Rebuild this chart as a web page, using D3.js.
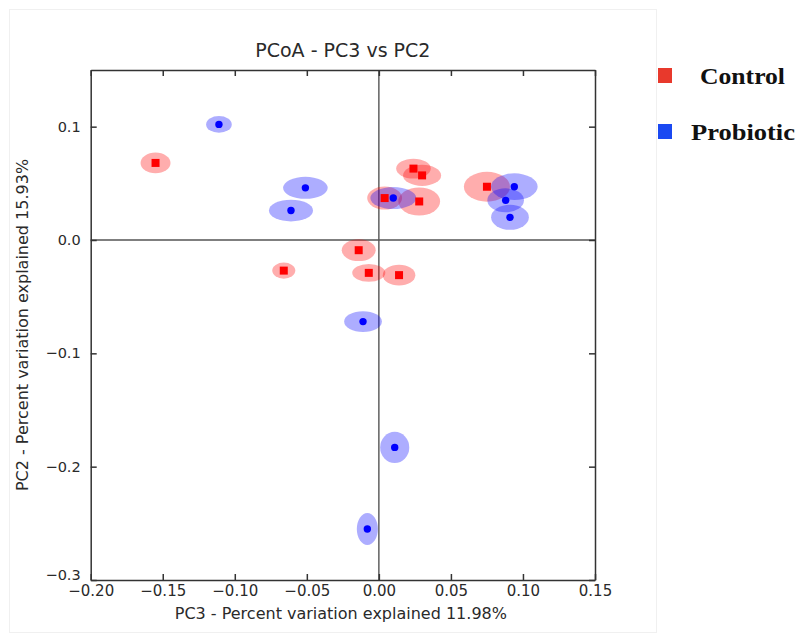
<!DOCTYPE html>
<html>
<head>
<meta charset="utf-8">
<script src="https://cdn.jsdelivr.net/npm/d3@7"></script>
<style>
  html, body { margin: 0; padding: 0; background: #fff; }
  svg { display: block; }
</style>
</head>
<body>
<svg id="chart" width="798" height="639"></svg>
<script>
// ---- data ----
const groups = ["Control", "Probiotic"];
const controlPC3 = [-0.155, -0.014, -0.066, -0.007, 0.024, 0.030, 0.004, 0.028, 0.075, 0.014];
const controlPC2 = [0.068, -0.009, -0.027, -0.029, 0.063, 0.057, 0.037, 0.034, 0.047, -0.031];
const controlRx  = [0.0104, 0.0118, 0.0080, 0.0115, 0.0120, 0.0132, 0.0121, 0.0145, 0.0160, 0.0113];
const controlRy  = [0.0091, 0.0096, 0.0071, 0.0079, 0.0088, 0.0093, 0.0101, 0.0124, 0.0132, 0.0091];
const probioticPC3 = [-0.111, -0.051, -0.061, 0.010, 0.094, 0.088, 0.091, -0.011, 0.011, -0.008];
const probioticPC2 = [0.102, 0.046, 0.026, 0.037, 0.047, 0.035, 0.020, -0.072, -0.183, -0.255];
const probioticRx  = [0.0089, 0.0155, 0.0153, 0.0159, 0.0162, 0.0127, 0.0131, 0.0131, 0.0101, 0.0073];
const probioticRy  = [0.0074, 0.0097, 0.0096, 0.0097, 0.0118, 0.0106, 0.0110, 0.0091, 0.0137, 0.0141];
const xTicks = [-0.20, -0.15, -0.10, -0.05, 0.00, 0.05, 0.10, 0.15];
const yTicks = [0.1, 0.0, -0.1, -0.2, -0.3];
const xDomain = [-0.20, 0.15];
const yDomain = [-0.30, 0.15];
const titleText = "PCoA - PC3 vs PC2";
const xLabel = "PC3 - Percent variation explained 11.98%";
const yLabel = "PC2 - Percent variation explained 15.93%";

// ---- layout ----
const svg = d3.select("#chart");
const L = 90.7, R = 595, T = 70, B = 580;
const x = d3.scaleLinear().domain(xDomain).range([L, R]);
const y = d3.scaleLinear().domain(yDomain).range([B, T]);

// faint outer frame of the original figure
svg.append("rect").attr("x", 9.5).attr("y", 9.5).attr("width", 647).attr("height", 623)
  .attr("fill", "none").attr("stroke", "#f0f0f0").attr("stroke-width", 1);

const font = "'DejaVu Sans', sans-serif";
const textCol = "#2a2a2a";

// zero lines
svg.append("line").attr("x1", L).attr("x2", R).attr("y1", y(0)).attr("y2", y(0))
  .attr("stroke", "#555").attr("stroke-width", 1.4);
svg.append("line").attr("x1", x(0)).attr("x2", x(0)).attr("y1", T).attr("y2", B)
  .attr("stroke", "#555").attr("stroke-width", 1.4);

// data records
const ctrl = controlPC3.map((v, i) => ({x: v, y: controlPC2[i], rx: controlRx[i], ry: controlRy[i]}));
const prob = probioticPC3.map((v, i) => ({x: v, y: probioticPC2[i], rx: probioticRx[i], ry: probioticRy[i]}));
const kx = Math.abs(x(1) - x(0)), ky = Math.abs(y(1) - y(0));

const gE = svg.append("g");
gE.selectAll("ellipse.c").data(ctrl).join("ellipse").attr("class", "c")
  .attr("cx", d => x(d.x)).attr("cy", d => y(d.y))
  .attr("rx", d => d.rx * kx).attr("ry", d => d.ry * ky)
  .attr("fill", "rgba(255,0,0,0.32)");
gE.selectAll("ellipse.p").data(prob).join("ellipse").attr("class", "p")
  .attr("cx", d => x(d.x)).attr("cy", d => y(d.y))
  .attr("rx", d => d.rx * kx).attr("ry", d => d.ry * ky)
  .attr("fill", "rgba(0,0,255,0.32)");

const gM = svg.append("g");
gM.selectAll("rect").data(ctrl).join("rect")
  .attr("x", d => x(d.x) - 4).attr("y", d => y(d.y) - 4)
  .attr("width", 8).attr("height", 8).attr("fill", "#ff0000");
gM.selectAll("circle").data(prob).join("circle")
  .attr("cx", d => x(d.x)).attr("cy", d => y(d.y)).attr("r", 3.7)
  .attr("fill", "#0000ff");

// axes: inward ticks on all 4 sides
const tickLen = 6;
const axCol = "#333";
const xb = d3.axisBottom(x).tickValues(xTicks).tickFormat(d3.format(".2f")).tickSizeInner(-tickLen).tickSizeOuter(0).tickPadding(5);
const xt = d3.axisTop(x).tickValues(xTicks).tickFormat("").tickSizeInner(-tickLen).tickSizeOuter(0);
const yl = d3.axisLeft(y).tickValues(yTicks).tickFormat(d3.format(".1f")).tickSizeInner(-tickLen).tickSizeOuter(0).tickPadding(10);
const yr = d3.axisRight(y).tickValues(yTicks).tickFormat("").tickSizeInner(-tickLen).tickSizeOuter(0);

function style(g, size) {
  g.selectAll("path").attr("stroke", axCol).attr("stroke-width", 1.5);
  g.selectAll("line").attr("stroke", axCol).attr("stroke-width", 1.5);
  g.selectAll("text").attr("font-family", font).attr("font-size", size).attr("fill", textCol);
}
svg.append("g").attr("transform", `translate(0,${B})`).call(xb).call(style, 15);
svg.append("g").attr("transform", `translate(0,${T})`).call(xt).call(style, 15);
const gy = svg.append("g").attr("transform", `translate(${L},0)`).call(yl).call(style, 14.5);
// the lowest y label sits just above the x tick labels, as in the original
gy.selectAll(".tick text").filter(d => d === yTicks[yTicks.length - 1]).attr("dy", "-0.05em");
svg.append("g").attr("transform", `translate(${R},0)`).call(yr).call(style, 15);

// titles
svg.append("text").attr("x", (L + R) / 2).attr("y", 57).attr("text-anchor", "middle")
  .attr("font-family", font).attr("font-size", 19).attr("fill", textCol).text(titleText);
svg.append("text").attr("x", (L + R) / 2 - 2).attr("y", 619).attr("text-anchor", "middle")
  .attr("font-family", font).attr("font-size", 16).attr("fill", textCol).text(xLabel);
svg.append("text").attr("transform", `translate(28,${(T + B) / 2}) rotate(-90)`).attr("text-anchor", "middle")
  .attr("font-family", font).attr("font-size", 16).attr("fill", textCol).text(yLabel);

// legend
const legColors = ["#e8392c", "#1a49f2"];
const legY = [76, 132];
const legX = [700, 691];
const legW = [85, 104];
const lg = svg.append("g");
groups.forEach((g, i) => {
  lg.append("rect").attr("x", 658).attr("y", legY[i] - 8).attr("width", 14).attr("height", 15)
    .attr("fill", legColors[i]);
  lg.append("text").attr("x", legX[i]).attr("y", legY[i] + 8)
    .attr("font-family", "'Liberation Serif', 'Times New Roman', serif").attr("font-weight", "bold")
    .attr("font-size", 24).attr("fill", "#111")
    .attr("textLength", legW[i]).attr("lengthAdjust", "spacingAndGlyphs").text(g);
});
</script>
</body>
</html>
